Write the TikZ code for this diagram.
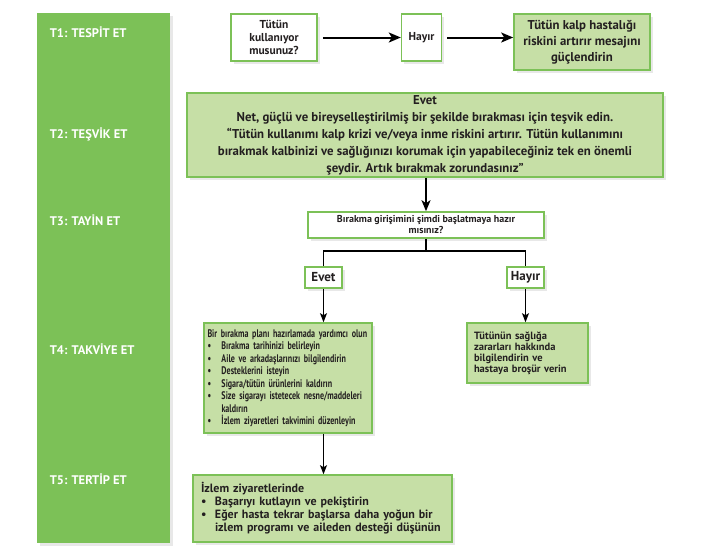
\documentclass[tikz,border=0pt]{standalone}
\usepackage{fontspec}
\setmainfont{PT Sans}
\usepackage{tikz}
\usetikzlibrary{arrows.meta,positioning,shadows}

\definecolor{leafgreen}{HTML}{7CC157}
\definecolor{palegreen}{HTML}{C6DFA6}
\definecolor{inkgray}{HTML}{231F20}

\newcommand{\itm}{\makebox[14pt][l]{\textbullet}}

\begin{document}
\begin{tikzpicture}[x=1pt,y=-1pt,->,>={Stealth[length=9pt,width=7pt,inset=2pt]},line width=1.1pt,
    box/.style={draw=leafgreen,line width=1.6pt,fill=white,text=inkgray,inner sep=0pt,
        font=\bfseries\fontsize{11.5}{13}\selectfont,align=center,
        drop shadow={shadow xshift=2.5pt,shadow yshift=-2.5pt,opacity=0.18}},
    gbox/.style={box,fill=palegreen},
    tag/.style={anchor=west,text=white,font=\bfseries\fontsize{12.5}{13}\selectfont},
    bigarrow/.style={line width=2pt,-{Stealth[length=12pt,width=10pt,inset=3pt]}}]
    \useasboundingbox (0,0) rectangle (715,550);

    % left column
    \fill[leafgreen,drop shadow={shadow xshift=2.5pt,shadow yshift=-2.5pt,opacity=0.18}] (37,13) rectangle (170,543);
    \node [tag] at (46,32)  (t1) {T1: TESPİT ET};
    \node [tag] at (46,134) (t2) {T2: TEŞVİK ET};
    \node [tag] at (46,220) (t3) {T3: TAYİN ET};
    \node [tag] at (46,349) (t4) {T4: TAKVİYE ET};
    \node [tag] at (46,479) (t5) {T5: TERTİP ET};

    % T1
    \node [box,minimum width=86pt,minimum height=47pt] at (274,37.5) (use) {Tütün\\kullanıyor\\musunuz?};
    \node [box,minimum width=40pt,minimum height=47pt,right=83pt of use] (no1) {Hayır};
    \node [gbox,minimum width=136pt,minimum height=56pt,font=\bfseries\fontsize{12.8}{16}\selectfont]
        at (582,42) (risk) {Tütün kalp hastalığı\\riskini artırır mesajını\\güçlendirin};

    \draw [bigarrow,shorten <=5pt] (use) -- (no1);
    \draw [bigarrow,shorten <=5pt] (no1.east) -- (no1.east -| risk.west);

    % T2
    \node [gbox,minimum width=476pt,minimum height=84pt,font=\bfseries\fontsize{12.8}{17}\selectfont]
        at (425,135) (yes1) {Evet\\
        Net, güçlü ve bireyselleştirilmiş bir şekilde bırakması için teşvik edin.\\
        “Tütün kullanımı kalp krizi ve/veya inme riskini artırır. Tütün kullanımını\\
        bırakmak kalbinizi ve sağlığınızı korumak için yapabileceğiniz tek en önemli\\
        şeydir. Artık bırakmak zorundasınız”};

    % T3
    \node [box,minimum width=236pt,minimum height=26pt,font=\bfseries\fontsize{10}{11}\selectfont]
        at (426,225) (ready) {Bırakma girişimini şimdi başlatmaya hazır\\mısınız?};
    \node [box,minimum width=37pt,minimum height=21pt,font=\bfseries\fontsize{13}{14}\selectfont]
        at (323.5,277.5) (yes2) {Evet};
    \node [box,minimum width=37pt,minimum height=21pt,font=\bfseries\fontsize{13}{14}\selectfont]
        at (525.5,277.5) (no2) {Hayır};

    \draw [line width=1.7pt,-{Stealth[length=11pt,width=9pt,inset=3pt]}] (yes1.south -| ready.north) -- (ready.north);
    \draw [-] (ready.south) -- (426,251) -| (yes2.north);
    \draw [-] (426,251) -| (no2.north);

    % T4
    \node [gbox,text width=161pt,inner xsep=3.5pt,minimum height=110pt,align=left,
        font=\bfseries\fontsize{11}{12.5}\selectfont\addfontfeatures{FakeStretch=0.73}]
        at (288,378) (plan) {Bir bırakma planı hazırlamada yardımcı olun\\
        \itm Bırakma tarihinizi belirleyin\\
        \itm Aile ve arkadaşlarınızı bilgilendirin\\
        \itm Desteklerini isteyin\\
        \itm Sigara/tütün ürünlerini kaldırın\\
        \itm Size sigarayı istetecek nesne/maddeleri\\
        \hspace*{14pt}kaldırın\\
        \itm İzlem ziyaretleri takvimini düzenleyin};
    \node [gbox,text width=107pt,inner xsep=7pt,minimum height=60pt,align=left,
        font=\bfseries\fontsize{10.5}{11}\selectfont]
        at (527.5,353) (info) {Tütünün sağlığa\\zararları hakkında\\bilgilendirin ve\\hastaya broşür verin};

    \draw (yes2.south) -- (yes2.south |- plan.north);
    \draw (no2.south) -- (no2.south |- info.north);

    % T5
    \node [gbox,text width=243pt,inner xsep=8pt,minimum height=67pt,align=left,
        font=\bfseries\fontsize{12}{13}\selectfont]
        at (322.5,508.5) (follow) {İzlem ziyaretlerinde\\
        \itm Başarıyı kutlayın ve pekiştirin\\
        \itm Eğer hasta tekrar başlarsa daha yoğun bir\\
        \hspace*{14pt}izlem programı ve aileden desteği düşünün};

    \draw (plan.south -| yes2.south) -- (follow.north -| yes2.south);
\end{tikzpicture}
\end{document}
